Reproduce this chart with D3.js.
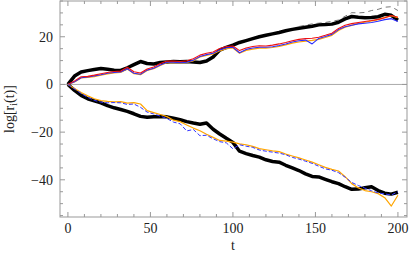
<!DOCTYPE html>
<html><head><meta charset="utf-8">
<script src="https://cdn.jsdelivr.net/npm/d3@7"></script>
<style>body{margin:0;background:#fff}svg{display:block}</style>
</head><body>
<script>
const T = [0,4,8,12,16,20,24,28,32,36,40,44,48,52,56,60,64,68,72,76,80,84,88,92,96,100,104,108,112,116,120,124,128,132,136,140,144,148,152,156,160,164,168,172,176,180,184,188,192,196,200];
const upperBlack = [0,3.5,5.2,5.8,6.3,6.7,6.4,6.0,5.9,7.0,8.3,9.6,8.8,8.6,9.2,9.4,9.6,9.5,9.6,9.4,9.2,9.8,11.5,14.4,15.5,16.5,17.6,18.4,19.2,20,20.6,21.2,21.8,22.5,23.1,23.6,24.0,24.4,25.0,25.1,25.3,26.1,27.5,28.5,28.2,28.0,28.1,28.4,29.4,29.0,27.0];
const upperRed = [0,1.5,3.2,3.4,3.9,4.5,5.0,5.4,5.6,7.2,5.3,4.8,6.5,7.3,8.8,9.8,9.8,9.6,9.9,10.8,12.3,13.1,13.6,15.1,15.9,16.1,14.2,15.3,15.9,16.2,16.1,16.5,17.0,17.6,18.3,18.9,19.2,19.4,19.8,20.6,21.5,23.5,24.8,25.5,26.0,26.4,26.8,27.3,28.0,28.9,28.2];
const upperBlue = [0,1.1,2.8,3.1,3.6,4.1,4.7,5.0,5.2,6.6,4.7,4.3,6.0,6.8,8.2,9.3,9.3,9.1,9.3,10.2,11.7,12.5,13.1,14.5,15.4,15.6,13.3,14.7,15.3,15.6,15.6,15.8,16.3,17.0,17.8,18.3,18.6,17.0,19.3,20.1,21.0,23.0,24.2,24.8,25.4,25.7,26.0,26.5,27.2,27.6,26.4];
const upperOrange = [0,1.0,2.7,3.0,3.3,3.9,4.4,4.8,5.0,6.5,4.5,4.1,5.9,6.6,8.0,9.1,9.2,9.0,9.2,9.9,11.5,12.2,12.8,14.1,15.0,15.3,13.1,14.3,14.8,15.2,15.2,15.5,16.0,16.6,17.3,17.8,18.2,18.5,18.9,19.7,20.6,22.6,24.0,24.8,25.6,26.1,26.6,27.2,28.0,28.8,28.0];
const dashT = [140,148,156,164,168,172,176,180,184,188,192,196,200];
const upperDashed = [24.3,25.4,26.0,27.0,28.6,30.1,30.0,30.2,31.0,31.5,32.4,32.6,31.0];
const lowerBlack = [0,-2.5,-4.6,-6.0,-6.9,-7.7,-8.9,-9.8,-10.5,-11.3,-12.3,-13.4,-13.8,-13.6,-13.4,-13.6,-14.2,-14.8,-15.6,-16.2,-16.7,-16.2,-18.8,-20.8,-22.6,-24.3,-28.0,-29.0,-29.8,-30.5,-31.6,-32.3,-32.6,-33.9,-35.0,-36.1,-37.5,-38.6,-38.8,-39.8,-40.8,-41.6,-42.9,-44.0,-43.9,-43.3,-42.9,-44.5,-45.6,-46.0,-45.2];
const lowerBlue = [0,-1.9,-3.8,-5.4,-6.7,-7.4,-7.7,-7.6,-7.7,-8.4,-8.2,-9.6,-11.6,-12.4,-13.3,-14.3,-15.8,-16.5,-19.5,-18.9,-21.5,-21.3,-22.8,-24.0,-24.5,-27.0,-25.3,-25.9,-26.4,-27.5,-28.0,-28.4,-28.8,-29.5,-30.6,-31.3,-32.2,-33.1,-34.3,-35.4,-36.0,-37.0,-38.9,-41.1,-42.4,-43.5,-44.6,-45.5,-45.9,-46.4,-45.0];
const lowerOrange = [0,-1.7,-3.4,-4.8,-6.0,-6.8,-7.1,-7.3,-7.2,-7.8,-7.6,-8.2,-11.0,-11.8,-12.6,-13.5,-15.0,-15.6,-17.0,-18.3,-19.4,-20.9,-22.2,-23.5,-23.8,-24.2,-24.9,-25.3,-26.0,-26.9,-27.4,-27.9,-28.2,-29.2,-30.0,-30.8,-31.7,-32.6,-33.7,-34.8,-35.6,-36.3,-38.7,-41.6,-43.4,-44.5,-45.0,-45.8,-47.5,-51.0,-46.5];
const xTicks = [0,50,100,150,200];
const yTicks = [-40,-20,0,20];

const W = 415, H = 258;
const L = 60, R = 407, TOP = 1, BOT = 217;
const svg = d3.select("body").append("svg").attr("width", W).attr("height", H);
const x = d3.scaleLinear().domain([-4.8, 205.5]).range([L, R]);
const y = d3.scaleLinear().domain([-55.6, 35]).range([BOT, TOP]);

const font = "'Liberation Serif', 'DejaVu Serif', serif";
const tickCol = "#999";

// zero line
svg.append("line").attr("x1", L).attr("x2", R).attr("y1", y(0)).attr("y2", y(0))
  .attr("stroke", "#aaa").attr("stroke-width", 1);

const line = (xs, ys) => d3.line().x((d, i) => x(xs[i])).y(d => y(d))(ys);
const g = svg.append("g");
function draw(xs, ys, col, w, dash) {
  const p = g.append("path").attr("d", line(xs, ys)).attr("fill", "none")
    .attr("stroke", col).attr("stroke-width", w).attr("stroke-linejoin", "round");
  if (dash) p.attr("stroke-dasharray", dash);
}
draw(T, upperBlack, "#000", 3.5);
draw(T, lowerBlack, "#000", 3.5);
draw(T, upperOrange, "#ffa500", 1.2);
draw(T, upperBlue, "#2b2bff", 1.1);
draw(T, upperRed, "#ee1111", 1.1);
draw(T, lowerOrange, "#ffa500", 1.2);
draw(T, lowerBlue, "#3333ff", 1.0, "4,2");
draw(dashT, upperDashed, "#555", 0.8, "5,4");

// frame
svg.append("rect").attr("x", L).attr("y", TOP).attr("width", R - L).attr("height", BOT - TOP)
  .attr("fill", "none").attr("stroke", tickCol).attr("stroke-width", 1);

// ticks
const xMinor = d3.range(0, 201, 10);
const yMinor = d3.range(-55, 36, 5);
xMinor.forEach(t => {
  const len = t % 50 === 0 ? 5 : 3;
  svg.append("line").attr("x1", x(t)).attr("x2", x(t)).attr("y1", BOT).attr("y2", BOT - len).attr("stroke", tickCol);
  svg.append("line").attr("x1", x(t)).attr("x2", x(t)).attr("y1", TOP).attr("y2", TOP + len).attr("stroke", tickCol);
});
yMinor.forEach(v => {
  const len = v % 20 === 0 ? 5 : 3;
  svg.append("line").attr("y1", y(v)).attr("y2", y(v)).attr("x1", L).attr("x2", L + len).attr("stroke", tickCol);
  svg.append("line").attr("y1", y(v)).attr("y2", y(v)).attr("x1", R).attr("x2", R - len).attr("stroke", tickCol);
});

// labels
xTicks.forEach(t => {
  svg.append("text").attr("x", x(t)).attr("y", 233).attr("text-anchor", "middle")
    .attr("font-family", font).attr("font-size", 14).attr("fill", "#222").text(t);
});
yTicks.forEach(v => {
  svg.append("text").attr("x", 53).attr("y", y(v) + 5).attr("text-anchor", "end")
    .attr("font-family", font).attr("font-size", 14).attr("fill", "#222")
    .text(v < 0 ? "\u2212" + Math.abs(v) : v);
});
svg.append("text").attr("x", x(100)).attr("y", 250).attr("text-anchor", "middle")
  .attr("font-family", font).attr("font-size", 14).attr("fill", "#222").text("t");
const yl = svg.append("text").attr("transform", "translate(14," + ((TOP + BOT) / 2) + ") rotate(-90)")
  .attr("text-anchor", "middle").attr("font-family", font).attr("font-size", 14).attr("fill", "#222");
yl.append("tspan").text("log[r");
yl.append("tspan").attr("font-size", 10).attr("dy", 3).text("i");
yl.append("tspan").attr("dy", -3).text("(t)]");
</script>
</body></html>
